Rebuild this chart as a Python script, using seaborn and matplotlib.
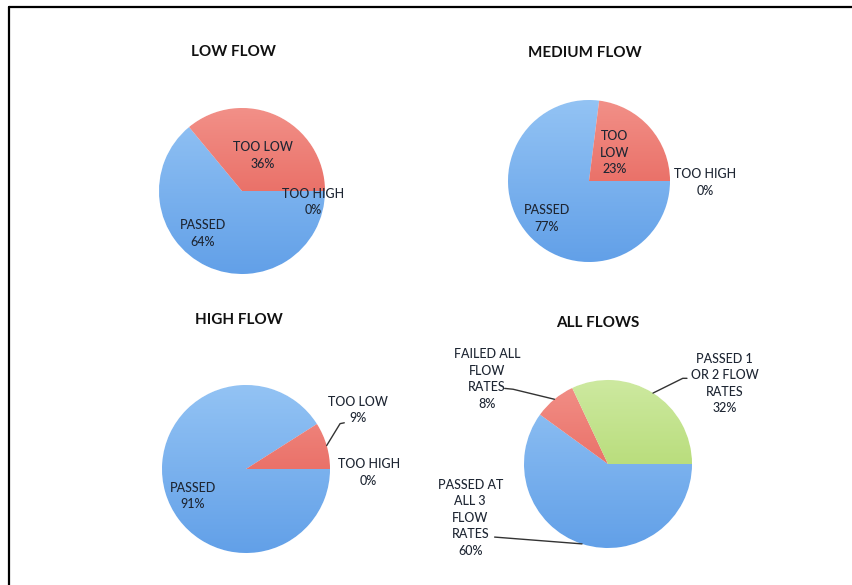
import numpy as np
import matplotlib
matplotlib.use("Agg")
import matplotlib.pyplot as plt
import seaborn as sns
from matplotlib.colors import LinearSegmentedColormap
from matplotlib.lines import Line2D

# ---- data -------------------------------------------------------------
low_labels = ["PASSED", "TOO LOW", "TOO HIGH"]
low_values = [64, 36, 0]

medium_labels = ["PASSED", "TOO\nLOW", "TOO HIGH"]
medium_values = [77, 23, 0]

high_labels = ["PASSED", "TOO LOW", "TOO HIGH"]
high_values = [91, 9, 0]

all_labels = ["PASSED AT\nALL 3\nFLOW\nRATES", "FAILED ALL\nFLOW\nRATES", "PASSED 1\nOR 2 FLOW\nRATES"]
all_values = [60, 8, 32]

titles = ["LOW FLOW", "MEDIUM FLOW", "HIGH FLOW", "ALL FLOWS"]

# ---- style ------------------------------------------------------------
sns.set_theme(style="white")
plt.rcParams["font.family"] = ["Lato", "DejaVu Sans"]

W, H = 852, 585
fig = plt.figure(figsize=(W / 100, H / 100), dpi=100)
fig.patch.set_facecolor("white")

# (top, bottom) gradient colours for each slice family
BLUE = ("#93c3f4", "#62a0e8")
RED = ("#f29088", "#e2534a")
GREEN = ("#cde9a0", "#a6d25a")
YELLOW = "#e9c845"
TXT = "#1e2633"


def pie_axes(cx, cy, r):
    ax = fig.add_axes([(cx - r) / W, 1 - (cy + r) / H, 2 * r / W, 2 * r / H])
    return ax


def shaded_pie(ax, values, palette, zero_edge=None):
    cols = [p[1] for p in palette]
    wedges, _ = ax.pie(values, colors=cols, startangle=0, counterclock=False,
                       radius=1.0, center=(0, 0))
    grad = np.linspace(0, 1, 256).reshape(-1, 1)
    for w, v, (top, bottom) in zip(wedges, values, palette):
        if v == 0:
            w.set_facecolor("none")
            if zero_edge:
                w.set_edgecolor(zero_edge)
                w.set_linewidth(1.0)
            continue
        cmap = LinearSegmentedColormap.from_list("g", [bottom, top])
        im = ax.imshow(grad, extent=[-1, 1, -1, 1], origin="lower", cmap=cmap,
                       aspect="auto", zorder=w.get_zorder() + 0.1)
        im.set_clip_path(w)
    ax.set_xlim(-1, 1)
    ax.set_ylim(-1, 1)
    ax.set_aspect("equal", adjustable="box")
    ax.axis("off")
    return wedges


def mid_edge(values, idx):
    # clockwise from 0 degrees, matching the pie direction
    total = float(sum(values))
    start = -360.0 * sum(values[:idx]) / total
    span = 360.0 * values[idx] / total
    ang = np.deg2rad(start - span / 2)
    return np.cos(ang), np.sin(ang)


def label(ax, x, y, text, value):
    ax.text(x, y, f"{text}\n{value}%", ha="center", va="center", fontsize=9,
            fontweight="medium", color=TXT, linespacing=1.45, clip_on=False)


def leader(ax, values, idx, pts):
    x0, y0 = mid_edge(values, idx)
    xs = [x0] + [p[0] for p in pts]
    ys = [y0] + [p[1] for p in pts]
    ax.plot(xs, ys, color="#333333", lw=1.0, clip_on=False, zorder=5)


pal3 = [BLUE, RED, ("#f5dc80", YELLOW)]

# LOW FLOW
ax = pie_axes(242, 191, 83)
shaded_pie(ax, low_values, pal3, zero_edge=YELLOW)
label(ax, -0.47, -0.51, low_labels[0], low_values[0])
label(ax, 0.25, 0.43, low_labels[1], low_values[1])
label(ax, 0.86, -0.13, low_labels[2], low_values[2])

# MEDIUM FLOW
ax = pie_axes(589, 181, 81)
shaded_pie(ax, medium_values, pal3, zero_edge=YELLOW)
label(ax, -0.52, -0.46, medium_labels[0], medium_values[0])
label(ax, 0.32, 0.35, medium_labels[1], medium_values[1])
label(ax, 1.43, -0.02, medium_labels[2], medium_values[2])

# HIGH FLOW
ax = pie_axes(246, 469, 84)
shaded_pie(ax, high_values, pal3)
label(ax, -0.63, -0.32, high_labels[0], high_values[0])
label(ax, 1.33, 0.70, high_labels[1], high_values[1])
label(ax, 1.46, -0.04, high_labels[2], high_values[2])
leader(ax, high_values, 1, [(1.12, 0.54), (1.17, 0.55)])

# ALL FLOWS
ax = pie_axes(608, 464, 84)
shaded_pie(ax, all_values, [BLUE, RED, GREEN])
label(ax, -1.64, -0.64, all_labels[0], all_values[0])
label(ax, -1.44, 1.01, all_labels[1], all_values[1])
label(ax, 1.39, 0.96, all_labels[2], all_values[2])
leader(ax, all_values, 0, [(-1.35, -0.87)])
leader(ax, all_values, 1, [(-1.13, 0.89), (-1.23, 0.90)])
leader(ax, all_values, 2, [(0.89, 1.02), (0.94, 1.02)])

# panel titles
for (px, py), t in zip([(233, 52), (585, 53), (239, 320), (598, 323)], titles):
    fig.text(px / W, 1 - py / H, t, ha="center", va="center", fontsize=11,
             fontweight="bold", color="#111111")

# frame lines along the top and left edge
fig.add_artist(Line2D([9 / W, 1], [1 - 7 / H, 1 - 7 / H], transform=fig.transFigure,
                      color="black", lw=1.6))
fig.add_artist(Line2D([9 / W, 9 / W], [0, 1 - 7 / H], transform=fig.transFigure,
                      color="black", lw=1.6))

fig.savefig("out.png", dpi=100, facecolor="white")
